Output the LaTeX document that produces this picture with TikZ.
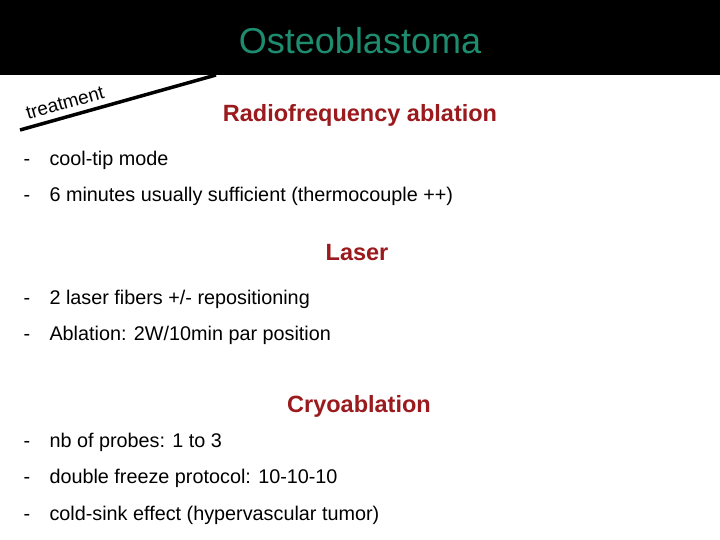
\documentclass[tikz,border=0pt]{standalone}
\usepackage{fontspec}
\setmainfont{Liberation Sans}
\definecolor{teal1}{HTML}{1E8C6E}
\definecolor{dred}{HTML}{9A1A1E}
\begin{document}
\begin{tikzpicture}[x=1pt,y=-1pt,
  head/.style={text=dred,font=\fontsize{23.5}{26}\selectfont\bfseries,anchor=center},
  bul/.style={anchor=west,font=\fontsize{19.8}{22}\selectfont},
  dsh/.style={anchor=west,font=\fontsize{19.8}{22}\selectfont}]
\useasboundingbox (0,0) rectangle (720,540);
\fill[white] (0,0) rectangle (720,540);
\fill[black] (0,0) rectangle (720,75);
\node[text=teal1,font=\fontsize{36}{40}\selectfont] (title) at (360,41) {Osteoblastoma};
\coordinate (l1) at (20,130);
\coordinate (l2) at (216,75);
\draw[line width=3.5pt] (l1) -- (l2);
\node[rotate=15.7,font=\fontsize{19}{21}\selectfont] (tr) at (65,103) {treatment};
\node[head] (h1) at (360,115) {Radiofrequency ablation};
\node[head] (h2) at (357,253) {Laser};
\node[head] (h3) at (359,406) {Cryoablation};
\foreach \y/\t [count=\i] in {159/{cool-tip mode},195/{6 minutes usually sufficient (thermocouple ++)},298/{2 laser fibers +/- repositioning},334/{Ablation: 2W/10min par position},441/{nb of probes: 1 to 3},477/{double freeze protocol: 10-10-10},514/{cold-sink effect (hypervascular tumor)}}{
  \node[dsh] (d\i) at (20,\y+3.5) {-};
  \node[bul] (b\i) at (46,\y+1.5) {\t};
}
\end{tikzpicture}
\end{document}
